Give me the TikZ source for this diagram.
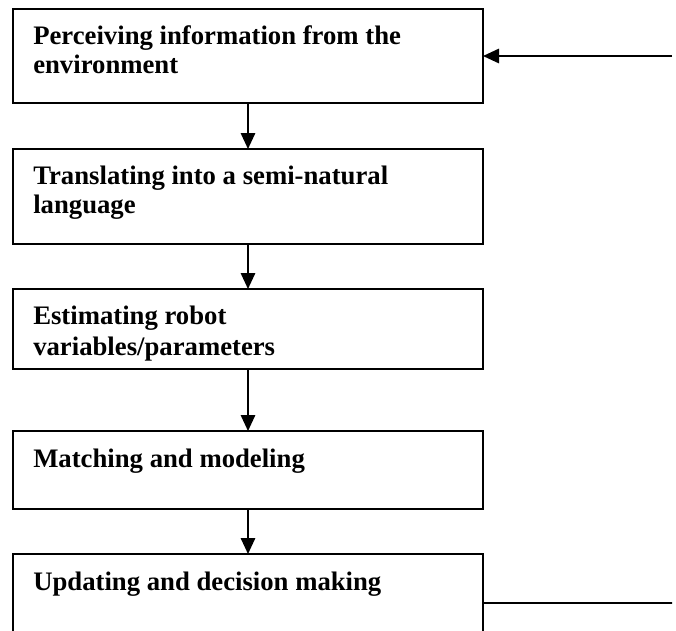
\documentclass[tikz,border=0pt]{standalone}
\usepackage{fontspec}
\setmainfont{Liberation Serif}
\usetikzlibrary{arrows.meta,calc,positioning}
\tikzset{
  stage/.style={
    draw=black,line width=1.4pt,outer sep=0pt,
    minimum width=11.75cm,inner sep=0pt
  },
  stagetext/.style={font=\bfseries\fontsize{19}{20.5}\selectfont,
    align=left,anchor=base west,inner sep=0pt},
  flow/.style={draw=black,line width=1.3pt,-{Triangle[length=4mm,width=3.6mm]}},
  feedback/.style={draw=black,line width=1.3pt}
}

\begin{document}
\begin{tikzpicture}[x=1cm,y=1cm]
\clip (0,0) rectangle (16.9,-15.75);

% the five stages, top to bottom
\node[stage,minimum height=2.35cm] (perceive) at (6.2,-1.4) {};
\node[stage,minimum height=2.375cm,below=1.15cm of perceive] (translate) {};
\node[stage,minimum height=2cm,below=1.125cm of translate] (estimate) {};
\node[stage,minimum height=1.95cm,below=1.55cm of estimate] (match) {};
\node[stage,minimum height=2.45cm,below=1.125cm of match] (update) {};

% base of a two-line text is its second line
\node[stagetext] (perceive-t) at ($(perceive.north west)+(0.5,-1.62)$)
  {Perceiving information from the\\environment};
\node[stagetext] (translate-t) at ($(translate.north west)+(0.5,-1.62)$)
  {Translating into a semi-natural\\language};
\begin{scope}
  \clip (estimate.north west) rectangle ($(estimate.south east)+(0,0.225)$);
  \node[stagetext,font=\bfseries\fontsize{19}{22}\selectfont] (estimate-t)
    at ($(estimate.north west)+(0.5,-1.67)$)
    {Estimating robot\\variables/parameters};
\end{scope}
\node[stagetext] (match-t) at ($(match.north west)+(0.5,-0.9)$)
  {Matching and modeling};
\node[stagetext] (update-t) at ($(update.north west)+(0.5,-0.9)$)
  {Updating and decision making};

\foreach \a/\b in {perceive/translate,translate/estimate,
                   estimate/match,match/update}
  \draw[flow] (\a.south) -- (\b.north);

% loop back from the right edge
\coordinate (fbin) at (16.8,-1.4);
\coordinate (fbout) at (16.8,-15.075);
\draw[flow] (fbin) -- (perceive.east);
\draw[feedback] (update.east) -- (fbout);

\end{tikzpicture}
\end{document}
